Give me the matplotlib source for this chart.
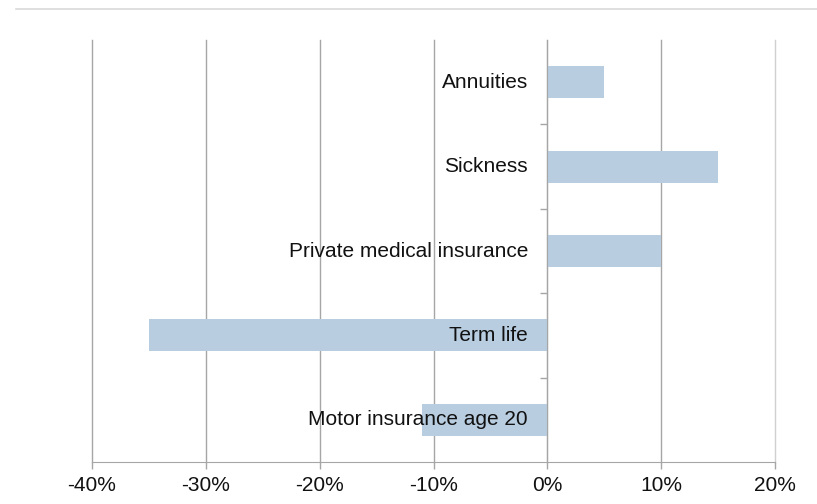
import matplotlib.pyplot as plt
from matplotlib.lines import Line2D
from matplotlib.ticker import FuncFormatter

# premium change by product, bottom to top
categories = ['Motor insurance age 20', 'Term life', 'Private medical insurance',
              'Sickness', 'Annuities']
changes = [-11, -35, 10, 15, 5]

x_ticks = [-40, -30, -20, -10, 0, 10, 20]

bar_color = '#b8cde0'
grid_color = '#a6a6a6'

plt.rcParams['font.family'] = ['Liberation Sans', 'DejaVu Sans']

fig = plt.figure(figsize=(8.17, 5.04), dpi=100)
ax = fig.add_axes([0.1126, 0.0833, 0.8360, 0.8373])

pos = list(range(len(categories)))
ax.barh(pos, changes, height=0.38, color=bar_color, zorder=2)

ax.set_xlim(-40, 20)
ax.set_ylim(-0.5, len(categories) - 0.5)
ax.set_xticks(x_ticks)
ax.xaxis.set_major_formatter(FuncFormatter(lambda v, _: f'{v:.0f}%'))
ax.tick_params(axis='x', length=5, width=1, color=grid_color,
               labelsize=15, pad=5, labelcolor='#111111')
ax.grid(axis='x', color=grid_color, linewidth=1)
for gl in ax.get_xgridlines():
    gl.set_clip_on(False)
# right-most gridline is drawn fainter
ax.get_xgridlines()[-1].set_color('#d0d0d0')
ax.set_axisbelow(True)

# vertical axis sits on the zero line, ticks between categories
ax.spines['left'].set_position(('data', 0))
ax.spines['left'].set_color(grid_color)
ax.spines['bottom'].set_color(grid_color)
ax.spines['top'].set_visible(False)
ax.spines['right'].set_visible(False)
ax.set_yticks([p + 0.5 for p in pos[:-1]])
ax.set_yticklabels([])
ax.tick_params(axis='y', length=5, width=1, color=grid_color, direction='out')

for p, name in zip(pos, categories):
    ax.annotate(name, xy=(0, p), xytext=(-14, 0), textcoords='offset points',
                ha='right', va='center', fontsize=15, color='#111111', zorder=4)

# rule under the (cropped) heading
fig.add_artist(Line2D([0.02, 1.0], [0.982, 0.982], transform=fig.transFigure,
                      color='#d9d9d9', linewidth=1.2))

fig.savefig('out.png', dpi=100)
